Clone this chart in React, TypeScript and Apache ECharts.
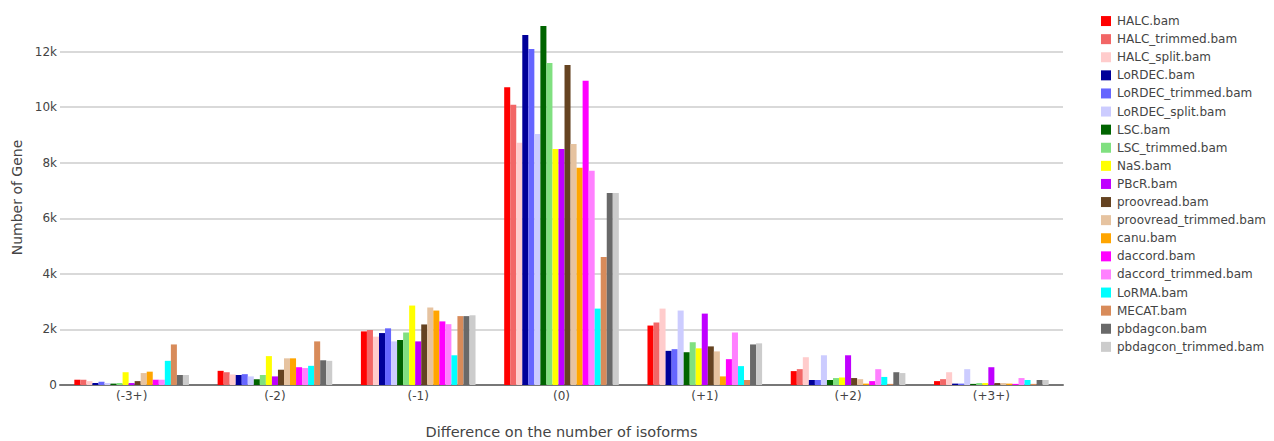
import React, { useEffect, useRef } from "react";
import * as echarts from "echarts";

const categories = ["(-3+)", "(-2)", "(-1)", "(0)", "(+1)", "(+2)", "(+3+)"];

const seriesNames = [
  "HALC.bam", "HALC_trimmed.bam", "HALC_split.bam", "LoRDEC.bam", "LoRDEC_trimmed.bam",
  "LoRDEC_split.bam", "LSC.bam", "LSC_trimmed.bam", "NaS.bam", "PBcR.bam", "proovread.bam",
  "proovread_trimmed.bam", "canu.bam", "daccord.bam", "daccord_trimmed.bam", "LoRMA.bam",
  "MECAT.bam", "pbdagcon.bam", "pbdagcon_trimmed.bam",
];

const seriesColors = [
  "#ff0000", "#f26666", "#ffcccc", "#000099", "#6666ff", "#ccccff", "#006400", "#80e080",
  "#ffff00", "#bf00ff", "#654321", "#e6c3a0", "#ffa500", "#ff00ff", "#ff80ff", "#00ffff",
  "#d88b5a", "#696969", "#cccccc",
];

// values per series across categories (-3+), (-2), (-1), (0), (+1), (+2), (+3+)
const HALC = [190, 510, 1930, 10720, 2140, 500, 140];
const HALC_trimmed = [190, 460, 1980, 10090, 2250, 570, 210];
const HALC_split = [140, 380, 1740, 8720, 2750, 1000, 460];
const LoRDEC = [70, 360, 1870, 12600, 1230, 180, 50];
const LoRDEC_trimmed = [120, 390, 2040, 12100, 1290, 180, 50];
const LoRDEC_split = [70, 310, 1570, 9040, 2680, 1070, 570];
const LSC = [50, 210, 1620, 12920, 1180, 180, 40];
const LSC_trimmed = [70, 360, 1890, 11590, 1540, 250, 70];
const NaS = [460, 1040, 2860, 8500, 1320, 270, 70];
const PBcR = [70, 310, 1570, 8500, 2570, 1070, 640];
const proovread = [140, 550, 2180, 11520, 1390, 250, 70];
const proovread_trimmed = [430, 960, 2790, 8680, 1210, 210, 70];
const canu = [480, 960, 2680, 7820, 310, 50, 50];
const daccord = [190, 640, 2290, 10950, 930, 140, 40];
const daccord_trimmed = [190, 610, 2190, 7710, 1890, 570, 250];
const LoRMA = [870, 690, 1070, 2750, 680, 290, 180];
const MECAT = [1460, 1570, 2480, 4610, 180, 40, 40];
const pbdagcon = [360, 890, 2480, 6910, 1460, 460, 180];
const pbdagcon_trimmed = [360, 870, 2510, 6910, 1500, 430, 180];

const seriesValues = [
  HALC, HALC_trimmed, HALC_split, LoRDEC, LoRDEC_trimmed, LoRDEC_split, LSC, LSC_trimmed,
  NaS, PBcR, proovread, proovread_trimmed, canu, daccord, daccord_trimmed, LoRMA, MECAT,
  pbdagcon, pbdagcon_trimmed,
];

const yTickLabels: Record<number, string> = {
  0: "0", 2000: "2k", 4000: "4k", 6000: "6k", 8000: "8k", 10000: "10k", 12000: "12k",
};

const FONT = "DejaVu Sans, Verdana, sans-serif";

export default function App() {
  const ref = useRef<HTMLDivElement>(null);
  useEffect(() => {
    if (!ref.current) return;
    const chart = echarts.init(ref.current, null, { renderer: "svg" });
    chart.setOption({
      animation: false,
      backgroundColor: "#ffffff",
      grid: { left: 60, right: 211, top: 10, bottom: 56, outerBoundsMode: "none", containLabel: false },
      legend: {
        orient: "vertical",
        left: 1096,
        top: 7,
        itemWidth: 10,
        itemHeight: 10,
        itemGap: 0,
        icon: "rect",
        data: seriesNames,
        textStyle: {
          fontFamily: FONT,
          fontSize: 12,
          color: "#444",
          lineHeight: 18.1,
          padding: [0, 0, 0, 1],
        },
      },
      xAxis: {
        type: "category",
        data: categories,
        name: "Difference on the number of isoforms",
        nameLocation: "middle",
        nameGap: 39,
        nameTextStyle: { fontFamily: FONT, fontSize: 14.5, color: "#444" },
        axisLine: { show: true, lineStyle: { color: "#777", width: 2 } },
        axisTick: { show: false },
        axisLabel: { fontFamily: FONT, fontSize: 12, color: "#444", margin: 5 },
      },
      yAxis: {
        type: "value",
        min: 0,
        max: 13500,
        interval: 2000,
        name: "Number of Gene",
        nameLocation: "middle",
        nameGap: 36,
        nameTextStyle: { fontFamily: FONT, fontSize: 14, color: "#444" },
        axisLine: { show: false },
        axisTick: { show: false },
        axisLabel: {
          fontFamily: FONT,
          fontSize: 12,
          color: "#444",
          margin: 3,
          showMaxLabel: false,
          formatter: (v: number) => (yTickLabels[v] !== undefined ? yTickLabels[v] : ""),
        },
        splitLine: {
          show: true,
          lineStyle: {
            color: ["#777", "#cccccc", "#cccccc", "#cccccc", "#cccccc", "#cccccc", "#cccccc", "rgba(0,0,0,0)"],
            width: 1.5,
          },
        },
      },
      series: seriesNames.map((name, i) => ({
        name,
        type: "bar",
        data: seriesValues[i],
        itemStyle: { color: seriesColors[i] },
        barGap: "0%",
        barCategoryGap: "20%",
      })),
    });
    return () => chart.dispose();
  }, []);
  return (
    <div
      ref={ref}
      style={{ position: "fixed", left: 0, top: 0, width: 1274, height: 441 }}
    />
  );
}
